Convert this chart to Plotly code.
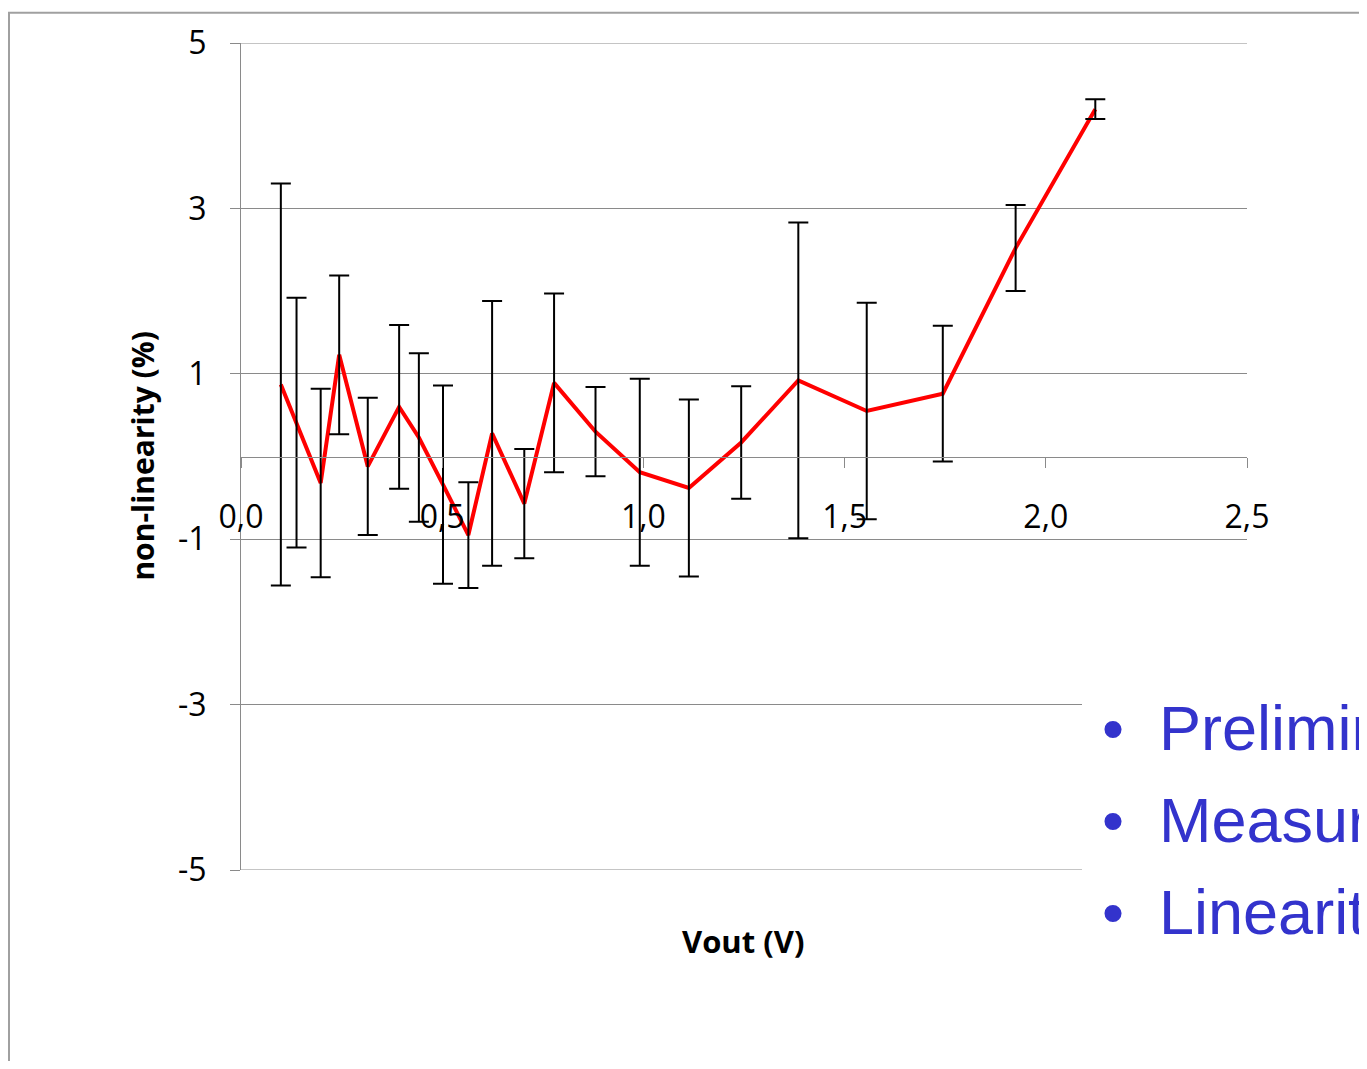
import plotly.graph_objects as go

# ---- data ----
vout = [0.099, 0.138, 0.198, 0.244, 0.315, 0.393, 0.442, 0.502, 0.565, 0.624, 0.704,
        0.778, 0.881, 0.991, 1.113, 1.243, 1.385, 1.555, 1.744, 1.925, 2.123]
nonlin = [0.87, 0.41, -0.32, 1.23, -0.12, 0.60, 0.23, -0.34, -0.95, 0.28, -0.57,
          0.89, 0.30, -0.19, -0.38, 0.17, 0.92, 0.55, 0.76, 2.52, 4.20]
err = [2.43, 1.51, 1.14, 0.96, 0.83, 0.99, 1.02, 1.20, 0.64, 1.60, 0.66,
       1.08, 0.54, 1.13, 1.07, 0.68, 1.91, 1.31, 0.82, 0.52, 0.12]
x_ticks = [0.0, 0.5, 1.0, 1.5, 2.0, 2.5]
x_ticklabels = ["0,0", "0,5", "1,0", "1,5", "2,0", "2,5"]
y_ticks = [-5, -3, -1, 1, 3, 5]
y_ticklabels = ["-5", "-3", "-1", "1", "3", "5"]
bullets = ["Preliminary", "Measurements", "Linearity"]

# ---- layout geometry (page pixels; the page body has an 8 px margin) ----
OFF = 8
W, H = 1367 - OFF, 1069 - 2 * OFF
L, R = 241 - OFF, 1367 - 1247
T = 39.5 - OFF
B = (H + OFF) - 870.3
PW, PH = W - L - R, H - T - B


def px(x):
    return (x - OFF - L) / PW


def py(y):
    return 1 - (y - OFF - T) / PH


GRID = "#8a8a8a"
FONT = "Open Sans"

fig = go.Figure()
fig.add_trace(go.Scatter(x=vout, y=nonlin, mode="lines",
                         line=dict(color="#ff0000", width=4), hoverinfo="skip"))
fig.add_trace(go.Scatter(x=vout, y=nonlin, mode="markers",
                         marker=dict(size=1, color="rgba(0,0,0,0)"),
                         error_y=dict(type="data", array=err, visible=True,
                                      color="#000000", thickness=2, width=10)))

fig.update_layout(
    width=W, height=H, autosize=False,
    margin=dict(l=L, r=R, t=T, b=B, pad=0),
    paper_bgcolor="white", plot_bgcolor="white",
    showlegend=False,
    xaxis=dict(range=[0, 2.5], tickvals=x_ticks, ticktext=x_ticklabels,
               showgrid=False, zeroline=False, showline=True, linecolor=GRID, linewidth=1,
               ticks="outside", ticklen=10, tickcolor=GRID, tickwidth=1,
               anchor="free", position=0.5, ticklabelstandoff=22,
               tickfont=dict(family=FONT, size=32, color="#000000")),
    yaxis=dict(range=[-5, 5], tickvals=y_ticks, ticktext=y_ticklabels,
               showgrid=True, gridcolor=GRID, gridwidth=1,
               zeroline=False, showline=True, linecolor=GRID, linewidth=1,
               ticks="outside", ticklen=10, tickcolor=GRID, tickwidth=1,
               ticklabelstandoff=17,
               tickfont=dict(family=FONT, size=32, color="#000000")),
)

shapes = [
    # gridlines at the range edges (plotly omits them)
    dict(type="line", xref="paper", yref="y", x0=0, x1=1, y0=y_ticks[-1], y1=y_ticks[-1],
         line=dict(color=GRID, width=1), layer="below"),
    dict(type="line", xref="paper", yref="y", x0=0, x1=1, y0=y_ticks[0], y1=y_ticks[0],
         line=dict(color=GRID, width=1), layer="below"),
    # slide frame
    dict(type="line", xref="paper", yref="paper", x0=px(8), x1=px(1400), y0=py(9), y1=py(9),
         line=dict(color="#a0a0a0", width=2)),
    dict(type="line", xref="paper", yref="paper", x0=px(9), x1=px(9), y0=py(9), y1=py(1100),
         line=dict(color="#a0a0a0", width=2)),
    # white text box of the bullet list
    dict(type="rect", xref="paper", yref="paper", x0=px(1082), x1=px(1400), y0=py(620), y1=py(1100),
         fillcolor="white", line=dict(width=0), layer="above"),
]
fig.update_layout(shapes=shapes)

ann = [
    dict(text="<b>Vout (V)</b>", x=px(743), y=py(942), xref="paper", yref="paper",
         showarrow=False, xanchor="center", yanchor="middle",
         font=dict(family=FONT, size=31, color="#000000")),
    dict(text="<b>non-linearity (%)</b>", x=px(143), y=py(454), xref="paper", yref="paper",
         showarrow=False, xanchor="center", yanchor="middle", textangle=-90,
         font=dict(family=FONT, size=30, color="#000000")),
]
for i, b in enumerate(bullets):
    yc = 728 + i * 92
    ann.append(dict(text="•", x=px(1113), y=py(yc), xref="paper", yref="paper",
                    showarrow=False, xanchor="center", yanchor="middle",
                    font=dict(family="Liberation Sans", size=63, color="#3333cc")))
    ann.append(dict(text=b, x=px(1157), y=py(yc), xref="paper", yref="paper",
                    showarrow=False, xanchor="left", yanchor="middle",
                    font=dict(family="Liberation Sans", size=63, color="#3333cc")))
fig.update_layout(annotations=ann)

fig.write_html("out.html")
